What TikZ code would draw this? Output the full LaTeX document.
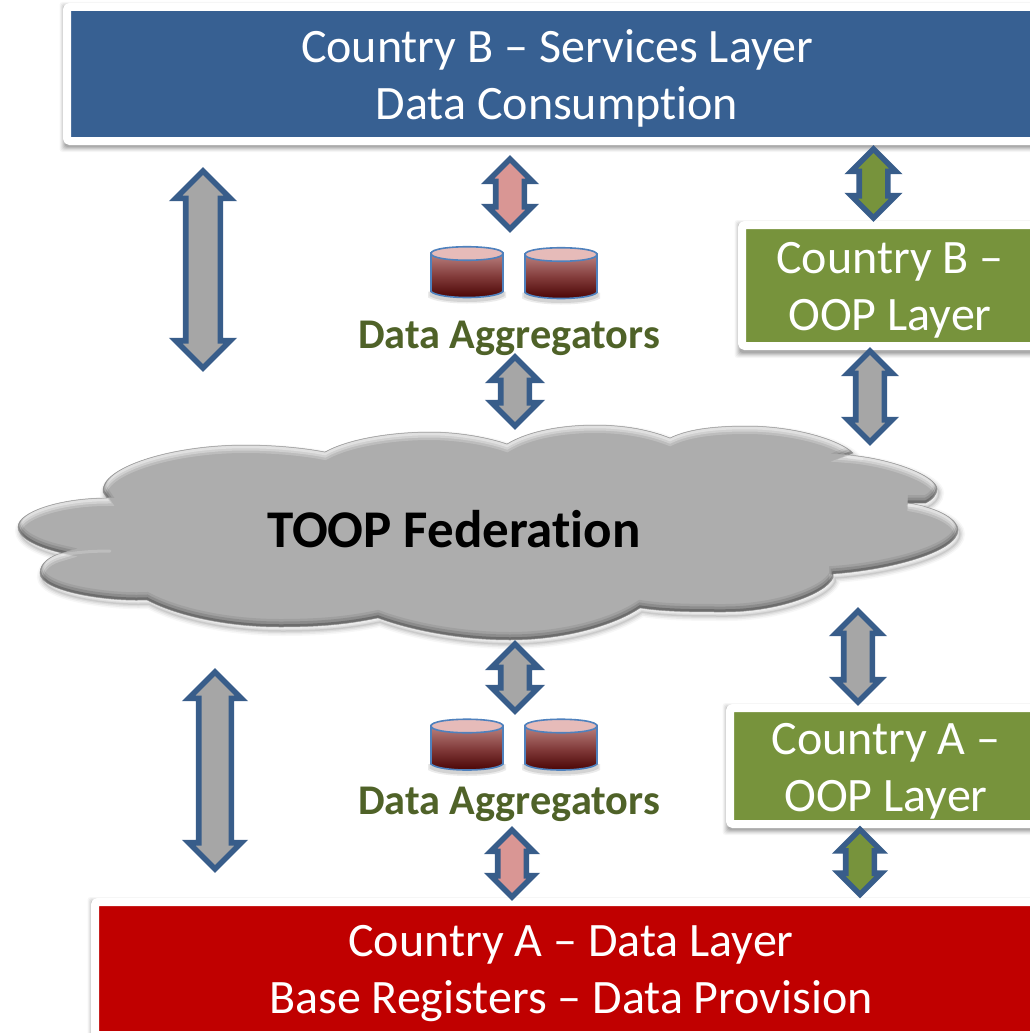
\documentclass[tikz,border=0pt]{standalone}
\usepackage{fontspec}
\setmainfont{Carlito}[Ligatures=NoCommon]
\usetikzlibrary{shapes.arrows}
\definecolor{blueb}{HTML}{376092}
\definecolor{greenb}{HTML}{77933C}
\definecolor{redb}{HTML}{C00000}
\definecolor{arrowline}{HTML}{385D8A}
\definecolor{arrowgray}{HTML}{A6A6A6}
\definecolor{arrowpink}{HTML}{D99694}
\definecolor{cloudgray}{HTML}{ADADAD}
\definecolor{aggtext}{HTML}{4F6228}
\definecolor{cylline}{HTML}{4F81BD}
\newcommand{\cloudoutline}{(103,492) .. controls (100,468) and (170,445) .. (245,445) .. controls (275,445) and (305,448) .. (325,452) .. controls (350,438) and (395,432) .. (430,432) .. controls (460,432) and (490,438) .. (507,444) .. controls (530,430) and (565,425) .. (595,425) .. controls (625,425) and (650,430) .. (670,438) .. controls (690,428) and (720,426) .. (747,426) .. controls (795,426) and (840,440) .. (853,453) -- (848,455) .. controls (890,458) and (937,476) .. (937,489) .. controls (937,495) and (932,500) .. (926,503) -- (908,503) .. controls (940,508) and (958,520) .. (958,530) .. controls (958,552) and (890,570) .. (833,574) -- (833,578) .. controls (825,595) and (775,612) .. (725,612) .. controls (695,612) and (665,612) .. (640,608) .. controls (615,625) and (565,640) .. (510,640) .. controls (460,640) and (410,630) .. (378,618) .. controls (345,625) and (315,627) .. (280,627) .. controls (225,627) and (175,615) .. (147,600) .. controls (110,602) and (40,592) .. (40,573) .. controls (40,563) and (50,556) .. (62,553) .. controls (35,547) and (18,537) .. (18,527) .. controls (18,512) and (60,498) .. (107,498) -- cycle}
\newcommand{\softshadow}[4]{%
  \foreach \e/\o in {5/.035,4/.045,3/.055,2/.07,1/.08,0/.09}{
    \fill[black,opacity=\o,rounded corners=3pt] ({#1-\e+1.5},{#2-\e+4}) rectangle ({#3+\e},{#4+\e+3});
  }}
\tikzset{
  x=1pt,y=-1pt,
  layerbox/.style={rectangle,draw=white,line width=8pt,rounded corners=3pt,inner sep=0pt},
  layertext/.style={text=white,align=center,inner sep=0pt,font=\fontsize{48}{57}\selectfont},
  blockarrow/.style={shape=double arrow,rotate=90,draw=arrowline,line width=5.6pt,inner xsep=0pt,miter limit=10,double arrow tip angle=90},
  headA/.style={inner ysep=11.5pt,double arrow head extend=8pt},
  headM/.style={inner ysep=11.5pt,double arrow head extend=9pt},
  headS/.style={inner ysep=11.5pt,double arrow head extend=7pt},
  headB/.style={inner ysep=14.5pt,double arrow head extend=10pt},
  headC/.style={inner ysep=13.5pt,double arrow head extend=10pt},
  aggtitle/.style={text=aggtext,font=\fontsize{42.3}{46}\selectfont\bfseries,inner sep=0pt},
  cloudtitle/.style={text=black,font=\fontsize{53}{57}\selectfont\bfseries,inner sep=0pt},
  dbcyl/.pic={
    \foreach \e/\o in {3/.08,1.5/.1}{
      \fill[black,opacity=\o] (-\e,48+\e) .. controls (10,56+\e) and (62,56+\e) .. (72+\e,48+\e) -- (72+\e,45) -- (-\e,45) -- cycle;
    }
    \shade[top color=arrowpink!85!black,bottom color=black!20!redb!45!black,middle color=black!10!redb!40!arrowpink!65!black,draw=cylline,line width=1.6pt]
      (0,7) -- (0,45) .. controls (8,53) and (64,53) .. (72,45) -- (72,7) .. controls (64,15) and (8,15) .. (0,7) -- cycle;
    \draw[cylline,line width=1.6pt,fill=arrowpink!65!white] (0,7) .. controls (0,-2) and (72,-2) .. (72,7) .. controls (72,16) and (0,16) .. (0,7) -- cycle;
  }
}
\begin{document}
\begin{tikzpicture}
\clip (0,0) rectangle (1030,1033);
\fill[white] (0,0) rectangle (1030,1033);
% shadows of the layer boxes
\softshadow{63}{3}{1060}{144}
\softshadow{738}{221}{1060}{350}
\softshadow{726}{704}{1060}{827}
\softshadow{91}{898}{1060}{1060}
% layer boxes
\node[layerbox,fill=blueb,minimum width=980pt,minimum height=134pt] (servicesB) at (557,74) {};
\node[layerbox,fill=greenb,minimum width=296pt,minimum height=121pt] (oopB) at (890,285.5) {};
\node[layerbox,fill=greenb,minimum width=312pt,minimum height=116pt] (oopA) at (886,766) {};
\node[layerbox,fill=redb,minimum width=952pt,minimum height=133pt] (dataA) at (571,968.5) {};
\node[layertext] (servicesBtext) at (557,78.5) {Country B – Services Layer\\Data Consumption};
\node[layertext] (oopBtext) at (890,290.5) {Country B –\\OOP Layer};
\node[layertext] (oopAtext) at (886,771) {Country A –\\OOP Layer};
\node[layertext] (dataAtext) at (571,974) {Country A – Data Layer\\Base Registers – Data Provision};
% cloud
\foreach \w/\o in {10/.03,7/.05,4/.06,1.5/.08}{
  \draw[black,opacity=\o,line width=\w pt,shift={(2,4)}] \cloudoutline;
}
\fill[cloudgray] \cloudoutline;
\begin{scope}
  \clip \cloudoutline;
  \draw[white,opacity=.2,line width=8pt,shift={(0,4)}] \cloudoutline;
  \draw[white,opacity=.3,line width=5pt,shift={(0,3)}] \cloudoutline;
  \draw[white,opacity=.35,line width=2.5pt,shift={(0,2)}] \cloudoutline;
  \draw[black,opacity=.07,line width=8pt,shift={(0,-4)}] \cloudoutline;
  \draw[black,opacity=.12,line width=5pt,shift={(0,-3)}] \cloudoutline;
  \draw[black,opacity=.22,line width=2.5pt,shift={(0,-1.5)}] \cloudoutline;
  \draw[white,opacity=.2,line width=3pt,line cap=round] (62,555) .. controls (78,552) and (95,551) .. (110,551);
  \draw[white,opacity=.25,line width=3pt,line cap=round] (848,457) -- (862,459);
  \draw[white,opacity=.25,line width=3pt,line cap=round] (908,505) -- (926,505);
\end{scope}
\draw[black!45,opacity=.7,line width=.5pt] \cloudoutline;
\node[cloudtitle] (toop) at (454,529) {TOOP Federation};
% data aggregators
\pic (dbA1) at (431,246.5) {dbcyl};
\pic (dbA2) at (525,247.5) {dbcyl};
\pic (dbB1) at (431,719) {dbcyl};
\pic (dbB2) at (525,719) {dbcyl};
\node[aggtitle] (aggTop) at (509,338) {Data Aggregators};
\node[aggtitle] (aggBottom) at (509,804) {Data Aggregators};
% block arrows
\node[blockarrow,headB,fill=arrowgray,minimum height=197pt] (arrowLeftTop) at (203,269.5) {};
\node[blockarrow,headA,fill=arrowpink,minimum height=70pt] (arrowPinkTop) at (510,194) {};
\node[blockarrow,headA,fill=greenb,minimum height=69pt] (arrowGreenTop) at (873.5,183.5) {};
\node[blockarrow,headM,fill=arrowgray,minimum height=69pt] (arrowMidTop) at (515,391.5) {};
\node[blockarrow,headA,fill=arrowgray,minimum height=91pt] (arrowRightTop) at (870,396.5) {};
\node[blockarrow,headA,fill=arrowgray,minimum height=91pt] (arrowRightLow) at (858,656.5) {};
\node[blockarrow,headM,fill=arrowgray,minimum height=67pt] (arrowMidLow) at (515,677.5) {};
\node[blockarrow,headC,fill=arrowgray,minimum height=197pt] (arrowLeftLow) at (215,770.5) {};
\node[blockarrow,headS,fill=arrowpink,minimum height=67pt] (arrowPinkLow) at (512,863.5) {};
\node[blockarrow,headS,fill=greenb,minimum height=65pt] (arrowGreenLow) at (860,862) {};
\end{tikzpicture}
\end{document}
